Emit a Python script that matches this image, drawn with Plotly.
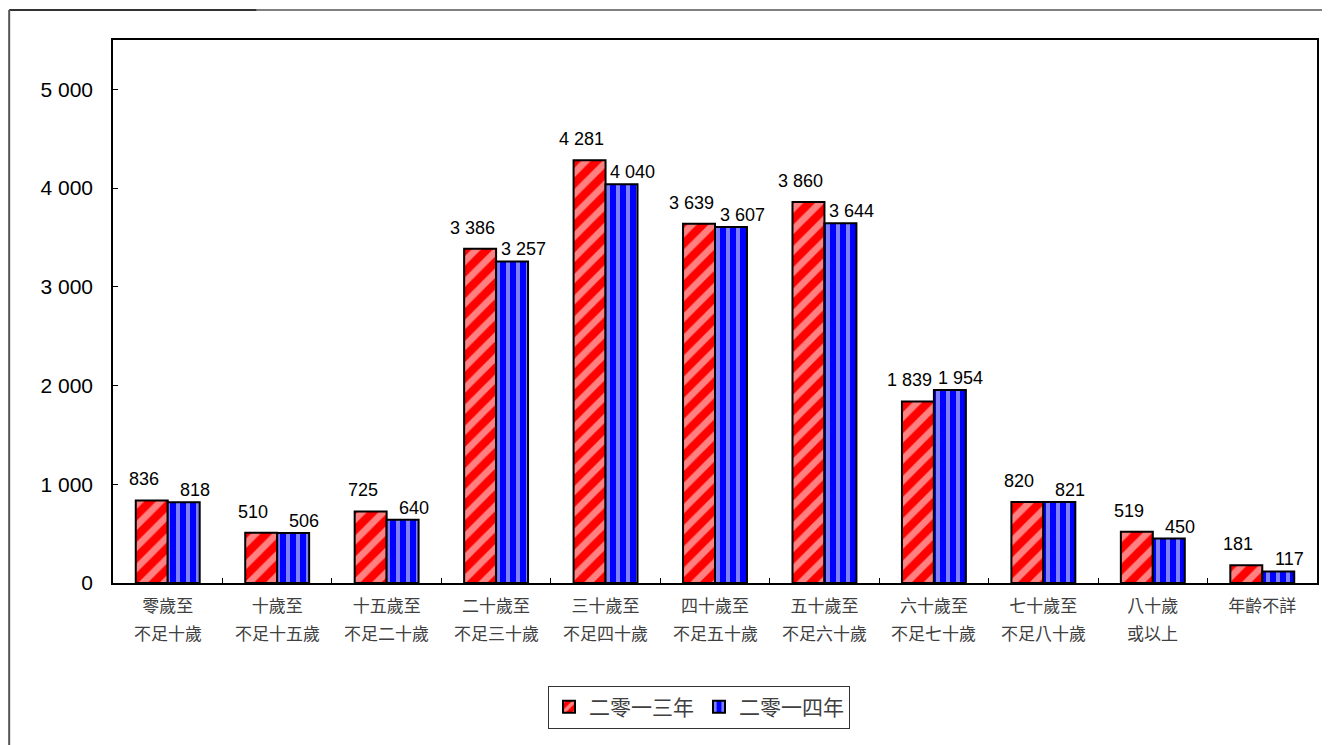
import plotly.graph_objects as go

line1 = ["零歲至", "十歲至", "十五歲至", "二十歲至", "三十歲至", "四十歲至", "五十歲至", "六十歲至",
         "七十歲至", "八十歲", "年齡不詳"]
line2 = ["不足十歲", "不足十五歲", "不足二十歲", "不足三十歲", "不足四十歲", "不足五十歲", "不足六十歲",
         "不足七十歲", "不足八十歲", "或以上", ""]
categories = [a + b for a, b in zip(line1, line2)]
series_names = ["二零一三年", "二零一四年"]
values_2013 = [836, 510, 725, 3386, 4281, 3639, 3860, 1839, 820, 519, 181]
values_2014 = [818, 506, 640, 3257, 4040, 3607, 3644, 1954, 821, 450, 117]
y_tickvals = [0, 1000, 2000, 3000, 4000, 5000]


def fmt(v):
    return f"{v:,}".replace(",", " ")


OFF = 8  # default page body margin
W, H = 1330 - OFF, 745 - OFF
L, T = 113 - OFF, 40 - OFF
R = 1330 - 1319
B = 745 - 583
pw, ph = W - L - R, H - T - B


def px_x(x):  # reference screen px -> paper
    return (x - OFF - L) / pw


def px_y(y):
    return (H - B - (y - OFF)) / ph


fig = go.Figure()
fig.add_trace(go.Bar(
    x=categories, y=values_2013, name=series_names[0],
    marker=dict(color="#FF0000", line=dict(color="black", width=2),
                pattern=dict(shape="/", fgcolor="white", bgcolor="#FF0000", size=15, solidity=0.45)),
))
fig.add_trace(go.Bar(
    x=categories, y=values_2014, name=series_names[1],
    marker=dict(color="#0000FF", line=dict(color="black", width=2),
                pattern=dict(shape="|", fgcolor="white", bgcolor="#0000FF", size=10, solidity=0.4)),
))

num_font = dict(family="Liberation Sans, Arial", size=18, color="black")
annotations = []
for c, v in zip(categories, values_2013):
    annotations.append(dict(x=c, y=v, text=fmt(v), showarrow=False, xref="x", yref="y",
                            xanchor="center", yanchor="bottom", xshift=-24, yshift=9, font=num_font))
for c, v in zip(categories, values_2014):
    annotations.append(dict(x=c, y=v, text=fmt(v), showarrow=False, xref="x", yref="y",
                            xanchor="center", yanchor="bottom", xshift=27, yshift=0, font=num_font))
for c, t in zip(categories, line2):
    if t:
        annotations.append(dict(x=c, y=px_y(632), text=t, showarrow=False, xref="x", yref="paper",
                                xanchor="center", yanchor="middle",
                                font=dict(family="Noto Sans CJK TC", size=17, color="#404040")))

shapes = [
    dict(type="line", xref="paper", yref="paper", x0=px_x(9), x1=px_x(257), y0=px_y(10), y1=px_y(10),
         line=dict(color="#333333", width=2)),
    dict(type="line", xref="paper", yref="paper", x0=px_x(257), x1=px_x(1330), y0=px_y(10), y1=px_y(10),
         line=dict(color="#808080", width=2)),
    dict(type="line", xref="paper", yref="paper", x0=px_x(9), x1=px_x(9), y0=px_y(10), y1=px_y(745),
         line=dict(color="#555555", width=2)),
]

fig.update_layout(
    width=W, height=H,
    margin=dict(l=L, r=R, t=T, b=B),
    paper_bgcolor="white", plot_bgcolor="white",
    barmode="group", bargap=0.416, bargroupgap=0,
    showlegend=True,
    legend=dict(orientation="h", x=px_x(700), y=px_y(707), xanchor="center", yanchor="middle",
                bordercolor="#333333", borderwidth=1, bgcolor="white",
                font=dict(family="Noto Sans CJK TC", size=21, color="#404040"),
                tracegroupgap=0),
    annotations=annotations,
    shapes=shapes,
    font=dict(family="Liberation Sans, Arial", color="black"),
)
fig.update_xaxes(
    type="category", showline=True, linecolor="black", linewidth=1.5, mirror=True,
    ticks="inside", tickson="boundaries", ticklen=5, tickcolor="black",
    tickvals=categories, ticktext=line1,
    tickfont=dict(family="Noto Sans CJK TC", size=17, color="#404040"),
    ticklabelstandoff=7, showgrid=False,
)
fig.update_yaxes(
    range=[0, 5500], tickvals=y_tickvals, ticktext=[fmt(v) for v in y_tickvals],
    showline=True, linecolor="black", linewidth=1.5, mirror=True,
    ticks="inside", ticklen=5, tickcolor="black", showgrid=False, zeroline=False,
    tickfont=dict(family="Liberation Sans, Arial", size=21, color="black"),
    ticklabelstandoff=14,
)

fig.write_html("out.html")
